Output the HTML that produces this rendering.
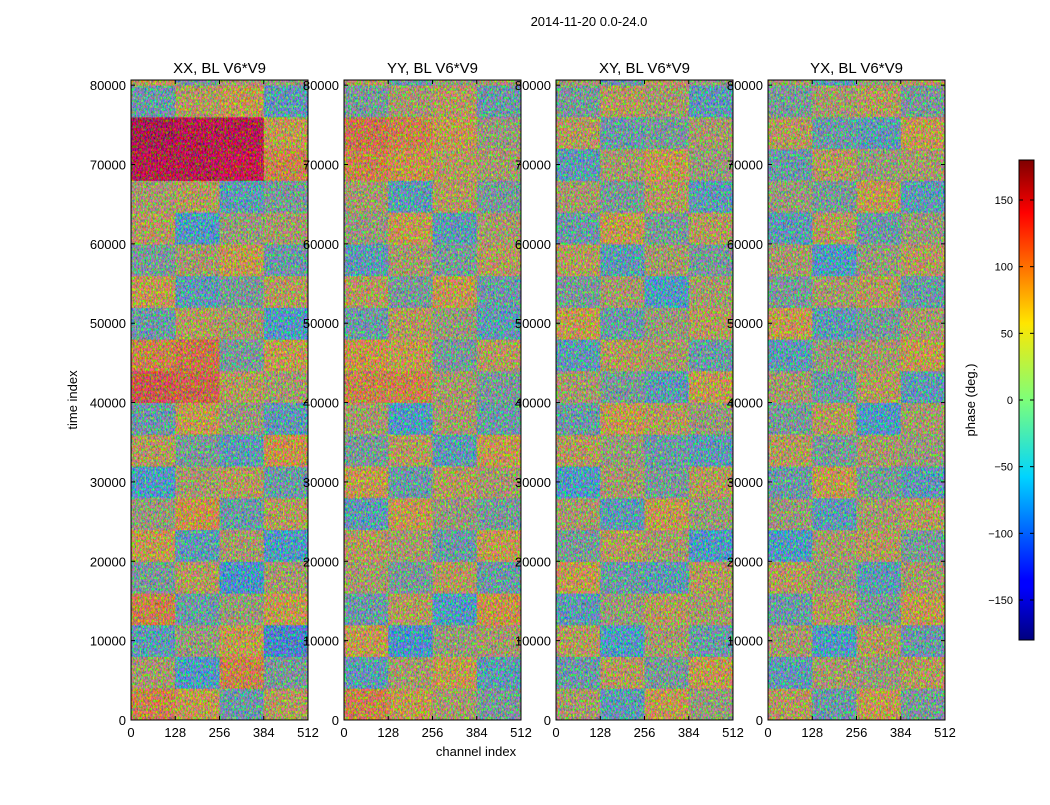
<!DOCTYPE html>
<html><head><meta charset="utf-8">
<style>
body{margin:0;background:#fff;}
svg text{font-family:"Liberation Sans",sans-serif;}
</style></head>
<body>
<svg id="fig" width="1050" height="800" xmlns="http://www.w3.org/2000/svg">
<defs>
<filter id="noise" x="0" y="0" width="100%" height="100%">
<feTurbulence type="fractalNoise" baseFrequency="0.6 0.35" numOctaves="2" seed="3" result="t"/>
<feColorMatrix type="matrix" values="3 -1.5 0 0 -0.4  -1.2 3 -1.2 0 -0.3  0 -1.5 3 0 -0.4  0 0 0 0 1"/>
</filter>
<linearGradient id="jet" x1="0" y1="1" x2="0" y2="0">
<stop offset="0" stop-color="#00007f"/><stop offset="0.11" stop-color="#0000ff"/>
<stop offset="0.125" stop-color="#0000ff"/><stop offset="0.34" stop-color="#00d4ff"/>
<stop offset="0.5" stop-color="#7dff7a"/><stop offset="0.66" stop-color="#ffe600"/>
<stop offset="0.89" stop-color="#ff0000"/><stop offset="1" stop-color="#7f0000"/>
</linearGradient>
</defs>
<text x="589" y="26" font-size="13" text-anchor="middle">2014-11-20 0.0-24.0</text>
<text x="476" y="756" font-size="13" text-anchor="middle">channel index</text>
<text transform="translate(77,400) rotate(-90)" font-size="13" text-anchor="middle">time index</text>
<g id="panels"></g>
<g id="cbar"></g>
</svg>
<script>
const titles=["XX, BL V6*V9","YY, BL V6*V9","XY, BL V6*V9","YX, BL V6*V9"];
const xTicks=[0,128,256,384,512];
const yTicks=[0,10000,20000,30000,40000,50000,60000,70000,80000];
const cbTicks=[150,100,50,0,-50,-100,-150];
// rows bottom->top, each 4000 time samples; 4 channel blocks of 128
const phaseXX=[[60,40,-20,30],[20,-40,60,-10],[-30,10,40,-60],[60,-20,10,40],[-10,30,-50,20],[40,-30,20,-40],[10,50,-20,30],[-40,20,30,-20],[30,-10,-30,50],[-20,40,10,-30],[90,80,30,20],[60,70,-10,40],[-20,30,20,-40],[40,-30,-10,30],[-10,20,40,-20],[30,-40,10,20],[20,30,-30,-10],[150,150,140,60],[160,150,150,40],[-20,30,40,-30],[40,-10,20,10]];
const phaseYY=[[60,40,20,-10],[-30,20,40,-30],[40,-50,10,20],[-20,30,-40,50],[20,-10,30,-20],[30,20,-20,40],[-30,40,10,-10],[40,-20,30,20],[-10,30,-30,40],[20,-40,20,-20],[60,60,20,-10],[50,40,-10,30],[-20,30,10,-30],[30,-10,40,-20],[-30,20,-10,30],[10,40,-30,20],[20,-30,30,-10],[60,50,30,20],[70,60,40,10],[-10,20,30,-20],[30,-20,10,20]];
const phaseXY=[[20,-30,40,10],[-20,30,-10,40],[30,-40,20,-20],[-30,10,30,20],[40,-20,-30,30],[-10,30,20,-40],[20,-30,40,10],[-40,20,-10,30],[30,10,-20,-30],[-20,40,30,10],[20,-10,-30,40],[-30,30,20,-20],[40,-20,10,30],[-10,20,-40,20],[30,-30,20,-10],[-20,40,-10,30],[20,-10,30,-30],[-30,20,40,10],[30,-20,-10,20],[-10,30,20,-30],[20,-20,30,10]];
const phaseYX=[[30,-20,40,-10],[-30,20,10,30],[20,-40,30,-20],[-20,30,-10,40],[30,10,-30,20],[-40,20,30,-10],[10,-30,20,30],[-20,40,-10,-30],[30,-10,20,10],[-10,30,-40,20],[20,-20,30,-30],[-30,10,20,40],[40,-30,-10,20],[-10,20,30,-20],[20,-40,10,30],[-30,30,-20,10],[10,-10,40,-30],[-20,30,10,20],[30,-20,-30,40],[-10,20,30,-10],[20,-30,10,30]];
const panelData=[phaseXX,phaseYY,phaseXY,phaseYX];
const panelX=[131,344,556,768], PW=177, PT=80, PB=720, Y_MAX=80650, X_MAX=512, ROW=4000, COL=128;
const NS="http://www.w3.org/2000/svg";
function jet(v){const t=Math.max(0,Math.min(1,(v+180)/360));
 const r=Math.max(0,Math.min(1,1.5-Math.abs(4*t-3))),g=Math.max(0,Math.min(1,1.5-Math.abs(4*t-2))),b=Math.max(0,Math.min(1,1.5-Math.abs(4*t-1)));
 return `rgb(${Math.round(r*255)},${Math.round(g*255)},${Math.round(b*255)})`;}
function mk(tag,attrs,parent){const e=document.createElementNS(NS,tag);for(const k in attrs)e.setAttribute(k,attrs[k]);parent.appendChild(e);return e;}
const root=document.getElementById('panels');
panelData.forEach((data,p)=>{
 const x0=panelX[p];
 const xs=c=>x0+c/X_MAX*PW, ys=v=>PB-v/Y_MAX*(PB-PT);
 const g=mk('g',{},root);
 
 
 const cp=mk('clipPath',{id:'cp'+p},g);
 mk('rect',{x:x0,y:PT,width:PW,height:PB-PT},cp);
 const cells=mk('g',{'clip-path':'url(#cp'+p+')'},g);
 data.forEach((row,i)=>row.forEach((v,j)=>{
  const y1=ys((i+1)*ROW),y2=ys(i*ROW);
  const r=mk('rect',{x:xs(j*COL),y:y1,width:xs((j+1)*COL)-xs(j*COL)+0.5,height:y2-y1+0.5,fill:jet(v)},cells);
  
  
 }));
 mk('rect',{x:x0,y:PT,width:PW,height:PB-PT,filter:'url(#noise)',opacity:0.55},cells);
 mk('rect',{x:x0,y:PT,width:PW,height:PB-PT,fill:'none',stroke:'#000','stroke-width':1},g);
 const t=mk('text',{x:x0+PW/2,y:73,'font-size':15,'text-anchor':'middle'},g);t.textContent=titles[p];
 
 
 xTicks.forEach(v=>{const x=xs(v);mk('line',{x1:x,x2:x,y1:PB,y2:PB-4,stroke:'#000'},g);mk('line',{x1:x,x2:x,y1:PT,y2:PT+4,stroke:'#000'},g);
  const l=mk('text',{x:x,y:737,'font-size':13,'text-anchor':'middle'},g);l.textContent=v;
  
  });
 yTicks.forEach(v=>{const y=ys(v);mk('line',{x1:x0,x2:x0+4,y1:y,y2:y,stroke:'#000'},g);mk('line',{x1:x0+PW,x2:x0+PW-4,y1:y,y2:y,stroke:'#000'},g);
  const l=mk('text',{x:x0-5,y:y+5,'font-size':13,'text-anchor':'end'},g);l.textContent=v;
  
  });
});
const cb=document.getElementById('cbar');
const CX=1019,CW=15,CT=160,CB=640,cy=v=>CB-(v+180)/360*(CB-CT);
mk('rect',{x:CX,y:CT,width:CW,height:CB-CT,fill:'url(#jet)',stroke:'#000'},cb);
cbTicks.forEach(v=>{const y=cy(v);mk('line',{x1:CX,x2:CX+4,y1:y,y2:y,stroke:'#000'},cb);mk('line',{x1:CX+CW,x2:CX+CW-4,y1:y,y2:y,stroke:'#000'},cb);
 const l=mk('text',{x:CX-6,y:y+4,'font-size':11,'text-anchor':'end'},cb);l.textContent=v<0?'\u2212'+(-v):v;
 
 });
const cl=mk('text',{transform:'translate(975,400) rotate(-90)','font-size':13,'text-anchor':'middle'},cb);cl.textContent='phase (deg.)';


</script>
</body></html>
